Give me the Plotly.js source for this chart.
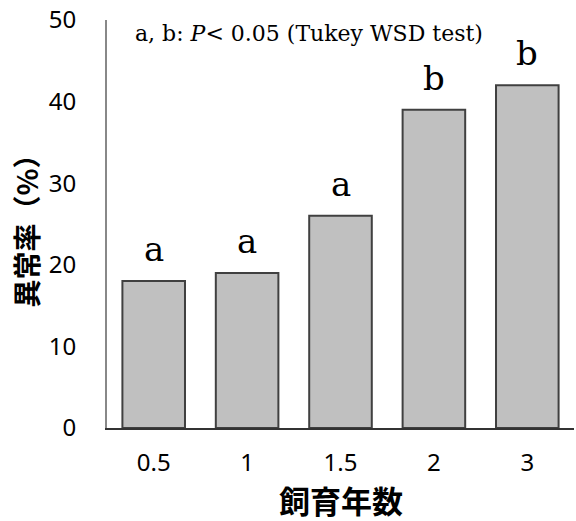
<!DOCTYPE html>
<html>
<head>
<meta charset="utf-8">
<script src="https://cdn.plot.ly/plotly-3.0.1.min.js"></script>
<style>
  html, body { margin: 0; padding: 0; background: #fff; }
  #chart { width: 576px; height: 521px; }
</style>
</head>
<body>
<div id="chart"></div>
<script>
// Rearing years (category labels on the x axis)
const years = ['0.5', '1', '1.5', '2', '3'];
// Abnormality rate (%) for each rearing period
const abnormalRate = [18, 19, 26, 39, 42];
// Significance letters (Tukey WSD test)
const groupLetters = ['a', 'a', 'a', 'b', 'b'];
const yTicks = [0, 10, 20, 30, 40, 50];

const serif = 'DejaVu Serif, Liberation Serif, serif';
const sans = 'Noto Sans, Open Sans, Liberation Sans, sans-serif';
const cjk = 'Noto Sans CJK JP, Noto Sans CJK SC, sans-serif';

const trace = {
  type: 'bar',
  x: years,
  y: abnormalRate,
  marker: {
    color: '#c0c0c0',
    line: { color: '#404040', width: 2 }
  },
  hoverinfo: 'x+y'
};

// letters sit above each bar; category index keeps them on their own bar
const letterNotes = years.map((yr, i) => ({
  x: i,
  y: abnormalRate[i],
  xref: 'x',
  yref: 'y',
  text: groupLetters[i],
  showarrow: false,
  xanchor: 'center',
  yanchor: 'bottom',
  yshift: 10,
  font: { family: serif, size: 34, color: '#000' }
}));

const layout = {
  width: 576,
  height: 521,
  margin: { l: 107, r: 2, t: 20, b: 93 },
  paper_bgcolor: '#fff',
  plot_bgcolor: '#fff',
  showlegend: false,
  bargap: 0.33,
  xaxis: {
    type: 'category',
    range: [-0.5, 4.5],
    showline: true,
    linecolor: '#333',
    linewidth: 2,
    ticks: '',
    ticklabelstandoff: 12,
    tickfont: { family: sans, size: 24, color: '#000' },
    showgrid: false,
    zeroline: false
  },
  yaxis: {
    range: [0, 50],
    tickvals: yTicks,
    ticktext: yTicks.map(String),
    showline: true,
    linecolor: '#888',
    linewidth: 2,
    ticks: '',
    ticklabelstandoff: 24,
    tickfont: { family: sans, size: 24, color: '#000' },
    showgrid: false,
    zeroline: false,
    title: {
      text: '<b>異常率（%）</b>',
      font: { family: cjk, size: 28, color: '#000' },
      standoff: 2
    }
  },
  annotations: [
    {
      x: 0.056,
      y: 0.968,
      xref: 'paper',
      yref: 'paper',
      xanchor: 'left',
      yanchor: 'middle',
      showarrow: false,
      text: 'a, b: <i>P</i>&lt; 0.05 (Tukey WSD test)',
      font: { family: serif, size: 22, color: '#000' }
    },
    {
      // x-axis title, placed under the tick labels
      x: 0.5,
      y: -0.176,
      xref: 'paper',
      yref: 'paper',
      xanchor: 'center',
      yanchor: 'middle',
      showarrow: false,
      text: '<b>飼育年数</b>',
      font: { family: cjk, size: 31, color: '#000' }
    }
  ].concat(letterNotes)
};

Plotly.newPlot('chart', [trace], layout, { displayModeBar: false, staticPlot: true });
</script>
</body>
</html>
